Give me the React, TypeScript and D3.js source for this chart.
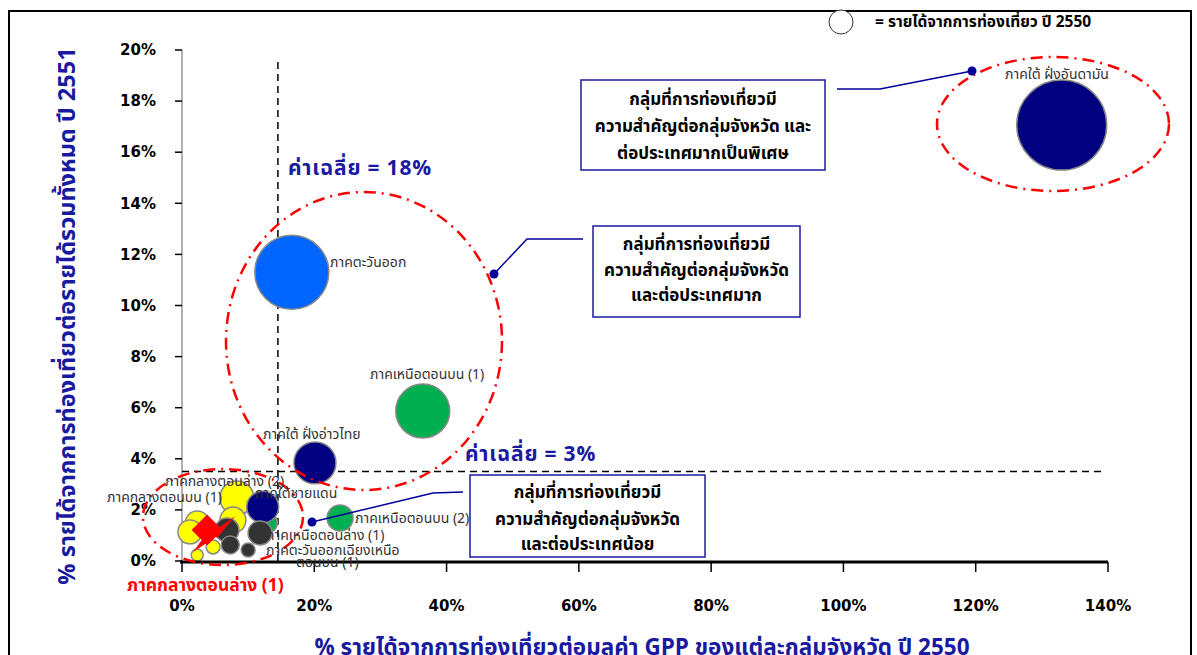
import * as d3 from 'd3';
import React from 'react';

type Bubble = { x: number; y: number; size: number; color: string };

// x: % tourism income / GPP 2550, y: % tourism income / total income 2551, size: tourism income 2550
const mainNames = [
  'ภาคใต้ ฝั่งอันดามัน',
  'ภาคตะวันออก',
  'ภาคเหนือตอนบน (1)',
  'ภาคใต้ ฝั่งอ่าวไทย',
  'ภาคเหนือตอนบน (2)',
  'ภาคใต้ชายแดน',
];
const mainX = [133.0, 16.6, 36.4, 20.1, 23.9, 12.2];
const mainY = [17.06, 11.3, 5.87, 3.84, 1.68, 2.11];
const mainSize = [200, 135, 72, 43.5, 16.7, 25];
const mainColors = ['#000080', '#0066ff', '#00b050', '#000080', '#00b050', '#000080'];

const yellowX = [8.3, 7.7, 2.3, 1.2, 2.3, 4.7];
const yellowY = [2.47, 1.6, 1.49, 1.14, 0.23, 0.55];
const yellowSize = [28.5, 16.7, 14.2, 14.2, 3.6, 4.8];

const darkX = [6.8, 7.3, 10.0, 11.8];
const darkY = [1.21, 0.63, 0.43, 1.1];
const darkSize = [14.2, 8, 4.8, 14.2];

const greenSmall = { x: 12.9, y: 1.49, size: 9.9 };
const diamond = { x: 3.8, y: 1.21 };

const xTicks = [0, 20, 40, 60, 80, 100, 120, 140];
const yTicks = [0, 2, 4, 6, 8, 10, 12, 14, 16, 18, 20];
const avgX = 14.5;
const avgY = 3.5;

const boxLines = [
  ['กลุ่มที่การท่องเที่ยวมี', 'ความสำคัญต่อกลุ่มจังหวัด และ', 'ต่อประเทศมากเป็นพิเศษ'],
  ['กลุ่มที่การท่องเที่ยวมี', 'ความสำคัญต่อกลุ่มจังหวัด', 'และต่อประเทศมาก'],
  ['กลุ่มที่การท่องเที่ยวมี', 'ความสำคัญต่อกลุ่มจังหวัด', 'และต่อประเทศน้อย'],
];

const thai = "'Noto Sans Thai', 'Noto Serif Thai', Tahoma, sans-serif";
const navyText = '#1a1aa0';

const App = () => {
  const x = d3.scaleLinear().domain([0, 140]).range([182, 1108]);
  const y = d3.scaleLinear().domain([0, 20]).range([561, 50]);
  const r = d3.scaleSqrt().domain([0, 200]).range([0, 45]);

  const yellow: Bubble[] = yellowX.map((v, i) => ({ x: v, y: yellowY[i], size: yellowSize[i], color: '#ffff00' }));
  const dark: Bubble[] = darkX.map((v, i) => ({ x: v, y: darkY[i], size: darkSize[i], color: '#333333' }));
  const main: Bubble[] = mainNames.map((_, i) => ({ x: mainX[i], y: mainY[i], size: mainSize[i], color: mainColors[i] }));
  const bubbles = [...yellow, { ...greenSmall, color: '#00b050' }, ...main, ...dark];

  const ellipse = (px: number, py: number, rx: number, ry: number) => (
    <ellipse cx={x(x.invert(px))} cy={y(y.invert(py))} rx={rx} ry={ry} fill="none" stroke="#ff0000" strokeWidth={2.5} strokeDasharray="12,6,2,6" />
  );

  const lbl = (t: string, px: number, py: number, anchor = 'start') => (
    <text x={px} y={py} fontSize={14} fill="#333" textAnchor={anchor} fontFamily={thai}>{t}</text>
  );

  const box = (bx: number, by: number, w: number, h: number, lines: string[], ys: number[]) => (
    <g>
      <rect x={bx} y={by} width={w} height={h} fill="#fff" stroke={navyText} strokeWidth={1.5} />
      {lines.map((t, i) => (
        <text key={i} x={bx + w / 2} y={ys[i]} textAnchor="middle" dominantBaseline="central" fontSize={17} fontWeight="bold" fontFamily={thai} fill="#000">{t}</text>
      ))}
    </g>
  );

  const diamondPath = d3.symbol(d3.symbolSquare, 480)()!;
  const dx = x(diamond.x);
  const dy = y(diamond.y);

  return (
    <svg width={1197} height={655} style={{ position: 'absolute', left: 0, top: 0, background: '#fff' }}>
      <rect x={9} y={11} width={1182} height={660} fill="none" stroke="#000" strokeWidth={2} />

      {/* legend */}
      <circle cx={841} cy={22} r={12} fill="#fff" stroke="#333" strokeWidth={1} />
      <text x={875} y={27} fontSize={15.5} fontWeight="bold" fontFamily={thai}>= รายได้จากการท่องเที่ยว ปี 2550</text>

      {/* y axis */}
      <line x1={182} x2={182} y1={y(20)} y2={y(0)} stroke="#666" strokeWidth={1} />
      {yTicks.map((t) => (
        <g key={t}>
          <line x1={175} x2={182} y1={y(t)} y2={y(t)} stroke="#000" strokeWidth={1.5} />
          <text x={156} y={y(t)} dy="0.35em" textAnchor="end" fontSize={15} fontWeight="bold" fontFamily="'DejaVu Sans'">{t}%</text>
        </g>
      ))}

      {/* average lines */}
      <line x1={x(avgX)} x2={x(avgX)} y1={62} y2={y(0)} stroke="#000" strokeWidth={1.5} strokeDasharray="7,5" />
      <line x1={x(0)} x2={1103} y1={y(avgY)} y2={y(avgY)} stroke="#000" strokeWidth={1.5} strokeDasharray="7,5" />
      <text x={288} y={168} fontSize={21} fontWeight="bold" fill={navyText} fontFamily={thai} letterSpacing={0.8} dy="0.35em">ค่าเฉลี่ย = 18%</text>
      <text x={465} y={454} fontSize={21} fontWeight="bold" fill={navyText} fontFamily={thai} letterSpacing={0.8} dy="0.35em">ค่าเฉลี่ย = 3%</text>

      {/* bubbles */}
      {bubbles.map((b, i) => (
        <circle key={i} cx={x(b.x)} cy={y(b.y)} r={r(b.size)} fill={b.color} stroke="#888" strokeWidth={1.5} />
      ))}
      <path d={diamondPath} transform={`translate(${dx},${dy}) rotate(45)`} fill="#ff0000" />
      <path d={`M${dx + 6},${dy + 2} L${dx + 28},${dy - 14} L${dx + 10},${dy + 8} Z`} fill="#ff0000" />
      <path d={`M${dx - 4},${dy + 8} L${dx - 14},${dy + 22} L${dx + 4},${dy + 10} Z`} fill="#ff0000" />

      {/* x axis */}
      <line x1={180} x2={x(140)} y1={562} y2={562} stroke="#000" strokeWidth={3} />
      {xTicks.map((t) => (
        <g key={t}>
          <line x1={x(t)} x2={x(t)} y1={562} y2={572} stroke="#000" strokeWidth={1.5} />
          <text x={x(t)} y={606} dy="0.35em" textAnchor="middle" fontSize={15} fontWeight="bold" fontFamily="'DejaVu Sans'">{t}%</text>
        </g>
      ))}

      {/* ellipses */}
      {ellipse(1053, 124, 116, 67)}
      {ellipse(364, 341, 138, 149)}
      {ellipse(223, 517, 80, 48)}

      {/* bubble labels */}
      {lbl(mainNames[0], 1057, 79, 'middle')}
      {lbl(mainNames[1], 330, 267)}
      {lbl(mainNames[2], 370, 379)}
      {lbl(mainNames[3], 263, 439)}
      {lbl('ภาคกลางตอนล่าง (2)', 165, 486)}
      {lbl('ภาคกลางตอนบน (1)', 107, 502)}
      {lbl(mainNames[5], 255, 498)}
      {lbl(mainNames[4], 355, 523)}
      {lbl('ภาคเหนือตอนล่าง (1)', 266, 540)}
      {lbl('ภาคตะวันออกเฉียงเหนือ', 266, 555)}
      {lbl('ตอนบน (1)', 296, 567)}
      <text x={127} y={591} fontSize={17.5} fontWeight="bold" fill="#ff0000" fontFamily={thai}>ภาคกลางตอนล่าง (1)</text>

      {/* callouts */}
      <polyline points="837,89 880,89 972,71" fill="none" stroke="#000099" strokeWidth={1.5} />
      <circle cx={972} cy={71} r={4.5} fill="#000099" />
      <polyline points="583,239 527,239 494,274" fill="none" stroke="#000099" strokeWidth={1.5} />
      <circle cx={494} cy={274} r={4.5} fill="#000099" />
      <polyline points="463,492 433,493 312,522" fill="none" stroke="#000099" strokeWidth={1.5} />
      <circle cx={312} cy={522} r={4.5} fill="#000099" />

      {box(581, 80, 244, 90, boxLines[0], [100, 127, 154])}
      {box(593, 226, 207, 91, boxLines[1], [245, 271, 296])}
      {box(470, 475, 235, 82, boxLines[2], [493, 520, 545])}

      {/* axis titles */}
      <text transform="translate(68,316) rotate(-90)" textAnchor="middle" dominantBaseline="central" fontSize={23.5} fontWeight="bold" fill={navyText} fontFamily={thai}>% รายได้จากการท่องเที่ยวต่อรายได้รวมทั้งหมด ปี 2551</text>
      <text x={642} y={648} textAnchor="middle" dominantBaseline="central" fontSize={22.5} fontWeight="bold" fill={navyText} fontFamily={thai}>% รายได้จากการท่องเที่ยวต่อมลค่า GPP ของแต่ละกลุ่มจังหวัด ปี 2550</text>
    </svg>
  );
};

export default App;
